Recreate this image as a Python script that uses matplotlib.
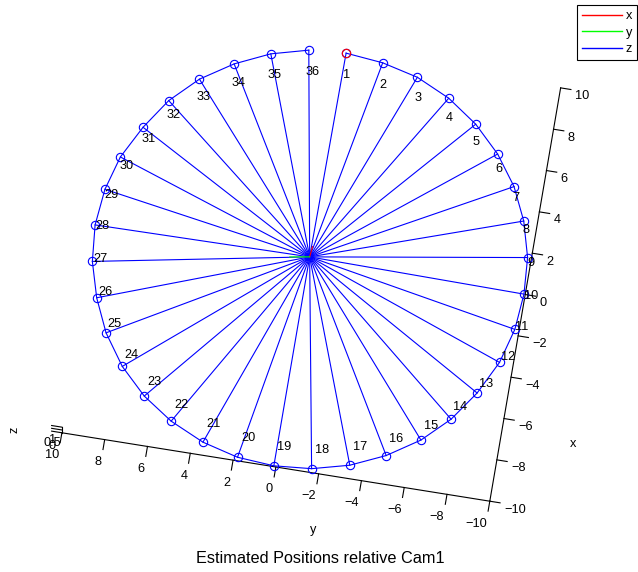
import matplotlib.pyplot as plt
import numpy as np
from mpl_toolkits.mplot3d import proj3d

# Estimated camera positions (relative Cam1), read off the top-down view
CAM_IDS = list(range(1, 37))
CAM_X = [10.02, 9.84, 9.42, 8.67, 7.65, 6.41, 5.00, 3.45, 1.76, 0.01,
         -1.72, -3.39, -5.00, -6.43, -7.64, -8.63, -9.36, -9.81, -9.96, -9.83,
         -9.38, -8.63, -7.65, -6.42, -4.96, -3.38, -1.70, 0.04, 1.79, 3.43,
         5.00, 6.45, 7.69, 8.67, 9.42, 9.88]
CAM_Y = [0.03, -1.71, -3.40, -4.99, -6.42, -7.65, -8.65, -9.36, -9.82, -9.94,
         -9.80, -9.36, -8.58, -7.60, -6.39, -4.93, -3.35, -1.64, 0.10, 1.82,
         3.51, 5.12, 6.54, 7.77, 8.77, 9.47, 9.95, 10.11, 9.94, 9.49,
         8.69, 7.73, 6.50, 5.04, 3.45, 1.75]
CAM_Z = [0.0] * 36

# point all cameras look at, and the small x / y frame axes drawn there
HUB = [0.15, 0.10, 0.0]
FRAME_X_END = [0.65, 0.05, 0.0]
FRAME_Y_END = [0.0, 1.0, 0.0]

X_TICKS = [-10, -8, -6, -4, -2, 0, 2, 4, 6, 8, 10]
Y_TICKS = [-10, -8, -6, -4, -2, 0, 2, 4, 6, 8, 10]
Z_TICKS = [0, 0.5, 1]
Z_TICK_LABELS = ['0', '0.5', '1']

FS = 9.2
LW = 0.8

plt.rcParams['font.family'] = ['Liberation Sans', 'DejaVu Sans']

fig = plt.figure(figsize=(6.38, 5.72), dpi=100)
ax = fig.add_axes([0.0519, 0.0635, 0.849, 0.947], projection='3d',
                  proj_type='ortho', computed_zorder=False)
ax.view_init(elev=75, azim=-170.6)
ax.set_xlim(-10, 10)
ax.set_ylim(-10, 10)
ax.set_zlim(0, 1)
ax.set_box_aspect((20, 20, 1), zoom=1.1)

hz = None
for x, y, z in zip(CAM_X, CAM_Y, CAM_Z):
    line, = ax.plot([x, HUB[0]], [y, HUB[1]], [z, HUB[2]], color='blue', lw=LW)
    if hz is None:
        hz = line

ax.plot(CAM_X, CAM_Y, CAM_Z, color='blue', lw=LW, marker='o', ms=6,
        mfc='none', mew=LW)
ax.plot(CAM_X[:1], CAM_Y[:1], CAM_Z[:1], ls='none', marker='o', ms=6,
        mfc='none', mec='red', mew=LW)

hx, = ax.plot([HUB[0], FRAME_X_END[0]], [HUB[1], FRAME_X_END[1]],
              [HUB[2], FRAME_X_END[2]], color='red', lw=LW)
hy, = ax.plot([HUB[0], FRAME_Y_END[0]], [HUB[1], FRAME_Y_END[1]],
              [HUB[2], FRAME_Y_END[2]], color='lime', lw=LW)

# camera numbers: placed at 0.9*x, projected with the axes' own matrix
M = ax.get_proj()
lx, ly, _ = proj3d.proj_transform(0.9 * np.array(CAM_X), np.array(CAM_Y),
                                  np.array(CAM_Z), M)
for cid, px, py in zip(CAM_IDS, lx, ly):
    ax.text2D(px, py, str(cid), ha='left', va='center_baseline', fontsize=FS)

ax.set_xticks(X_TICKS)
ax.set_yticks(Y_TICKS)
ax.set_zticks(Z_TICKS, labels=Z_TICK_LABELS)
ax.tick_params(labelsize=FS, colors='black')
ax.tick_params(axis='x', pad=-1.3)
ax.tick_params(axis='y', pad=0)
ax.tick_params(axis='z', pad=-4)
for t in ax.xaxis.get_ticklabels():
    t.set_ha('left')
    t.set_va('top')
for t in ax.yaxis.get_ticklabels():
    t.set_ha('right')
ax.grid(False)
for axis in (ax.xaxis, ax.yaxis, ax.zaxis):
    axis.set_pane_color((1, 1, 1, 0))
    axis.line.set_color('black')
    axis.line.set_linewidth(LW)
    axis._axinfo['tick']['inward_factor'] = 0.3
    axis._axinfo['tick']['outward_factor'] = 0.0
    axis._axinfo['tick']['linewidth'] = {True: LW, False: LW}
# z ticks point sideways (along y), as in the original
ax.zaxis._get_tickdir = lambda position: 1
ax.zaxis._axinfo['tick']['inward_factor'] = 0.0
ax.zaxis._axinfo['tick']['outward_factor'] = 0.3

# axis labels and the caption sit where the original put them
fig.text(573.3 / 638, 1 - 447.3 / 572, 'x', ha='center', va='baseline', fontsize=FS)
fig.text(313.3 / 638, 1 - 533.5 / 572, 'y', ha='center', va='baseline', fontsize=FS)
fig.text(14.5 / 638, 1 - 430 / 572, 'z', ha='center', va='center',
         rotation=90, fontsize=FS)
fig.text(320 / 638, 1 - 563.3 / 572, 'Estimated Positions relative Cam1',
         ha='center', va='baseline', fontsize=11.7)

leg = fig.legend([hx, hy, hz], ['x', 'y', 'z'], loc='upper right',
                 bbox_to_anchor=(637 / 638, 1 - 5 / 572),
                 borderaxespad=0, fontsize=FS, fancybox=False, framealpha=1,
                 edgecolor='black', handlelength=3.17, handletextpad=0.26,
                 labelspacing=0.35, borderpad=0.4)
leg.get_frame().set_linewidth(LW)
for line in leg.get_lines():
    line.set_linewidth(1.0)

fig.savefig('out.png', dpi=100)
